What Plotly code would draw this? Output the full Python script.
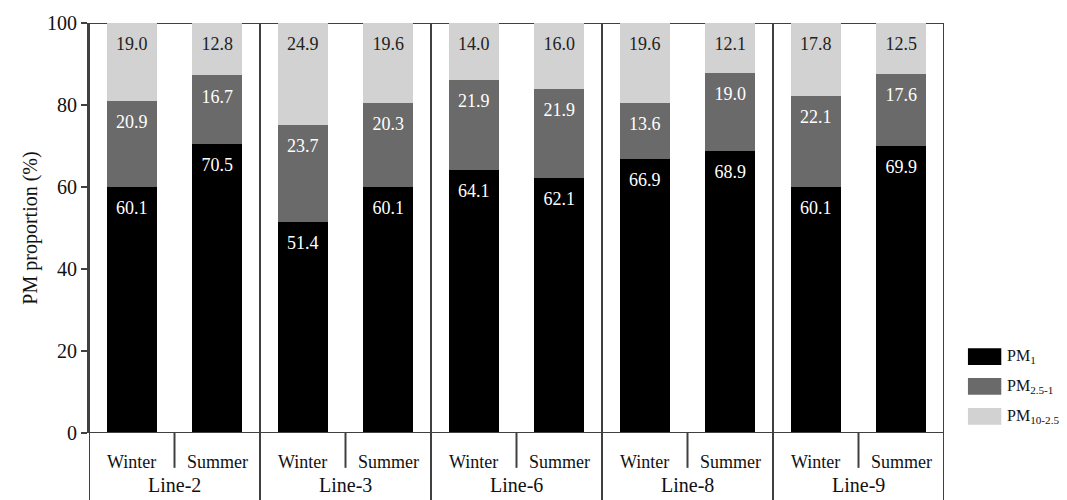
import plotly.graph_objects as go

lines = ["Line-2", "Line-3", "Line-6", "Line-8", "Line-9"]
seasons = ["Winter", "Summer"]
series_names = ["PM<sub>1</sub>", "PM<sub>2.5-1</sub>", "PM<sub>10-2.5</sub>"]
pm1 = [60.1, 70.5, 51.4, 60.1, 64.1, 62.1, 66.9, 68.9, 60.1, 69.9]
pm25_1 = [20.9, 16.7, 23.7, 20.3, 21.9, 21.9, 13.6, 19.0, 22.1, 17.6]
pm10_25 = [19.0, 12.8, 24.9, 19.6, 14.0, 16.0, 19.6, 12.1, 17.8, 12.5]
y_ticks = [0, 20, 40, 60, 80, 100]

colors = ["#000000", "#6a6a6a", "#d2d2d2"]
text_colors = ["#ffffff", "#ffffff", "#222222"]
FONT = "Liberation Serif"
AXC = "#404040"

series = [pm1, pm25_1, pm10_25]
n = len(lines) * len(seasons)
xs = list(range(n))

fig = go.Figure()
base = [0.0] * n
tops = []
for vals, name, col in zip(series, series_names, colors):
    fig.add_trace(go.Bar(x=xs, y=vals, name=name, marker=dict(color=col, line=dict(width=0)),
                         width=0.58, showlegend=False, hoverinfo="y"))
    base = [b + v for b, v in zip(base, vals)]
    tops.append(list(base))

for vals, top, tc in zip(series, tops, text_colors):
    fig.add_trace(go.Scatter(x=xs, y=[min(t, 100) - 5.5 for t in top], mode="text",
                             text=[f"{v:.1f}" for v in vals],
                             textfont=dict(family=FONT, size=18, color=tc),
                             showlegend=False, hoverinfo="skip"))

shapes = []
line_style = dict(color=AXC, width=2)
# top border and x-axis line
shapes.append(dict(type="line", xref="paper", yref="y", x0=0, x1=1, y0=100, y1=100, line=line_style, layer="below"))
shapes.append(dict(type="line", xref="paper", yref="y", x0=0, x1=1, y0=0, y1=0, line=line_style, layer="above"))
# group separators (full height, extending through labels)
for g in range(len(lines) + 1):
    xg = g * len(seasons) - 0.5
    shapes.append(dict(type="line", xref="x", yref="paper", x0=xg, x1=xg, y0=-0.17, y1=1, line=line_style))
# season separators
for g in range(len(lines)):
    xs_ = g * len(seasons) + 0.5
    shapes.append(dict(type="line", xref="x", yref="paper", x0=xs_, x1=xs_, y0=-0.085, y1=0, line=line_style))

annotations = []
for i in xs:
    annotations.append(dict(x=i, y=-0.071, xref="x", yref="paper", text=seasons[i % 2], showarrow=False,
                            font=dict(family=FONT, size=18, color="#111"), yanchor="middle"))
for g, name in enumerate(lines):
    annotations.append(dict(x=g * 2 + 0.5, y=-0.128, xref="x", yref="paper", text=name, showarrow=False,
                            font=dict(family=FONT, size=20, color="#111"), yanchor="middle"))

# legend (drawn)
leg_y = [(0.166, 0.207), (0.093, 0.134), (0.020, 0.061)]
for (y0, y1), name, col in zip(leg_y, series_names, colors):
    shapes.append(dict(type="rect", xref="paper", yref="paper", x0=1.028, x1=1.067, y0=y0, y1=y1,
                       fillcolor=col, line=dict(width=0)))
    annotations.append(dict(x=1.071, y=(y0 + y1) / 2, xref="paper", yref="paper", text=name, showarrow=False,
                            xanchor="left", yanchor="middle", font=dict(family=FONT, size=16, color="#111")))

# the page body has an 8px margin, so the figure is reduced by that amount
fig.update_layout(
    width=1059, height=492,
    margin=dict(l=81, r=123, t=15, b=67),
    barmode="stack",
    plot_bgcolor="white", paper_bgcolor="white",
    shapes=shapes, annotations=annotations,
    xaxis=dict(range=[-0.5, n - 0.5], showticklabels=False, showgrid=False, zeroline=False, showline=False, ticks=""),
    yaxis=dict(range=[0, 100], tickvals=y_ticks, showgrid=False, zeroline=False, automargin=False,
               showline=True, linecolor=AXC, linewidth=2, ticks="outside", ticklen=6, tickwidth=2, tickcolor=AXC,
               tickfont=dict(family=FONT, size=20, color="#111"),
               title=dict(text="PM proportion (%)", font=dict(family=FONT, size=20, color="#111"), standoff=4)),
)

fig.write_html("out.html")
